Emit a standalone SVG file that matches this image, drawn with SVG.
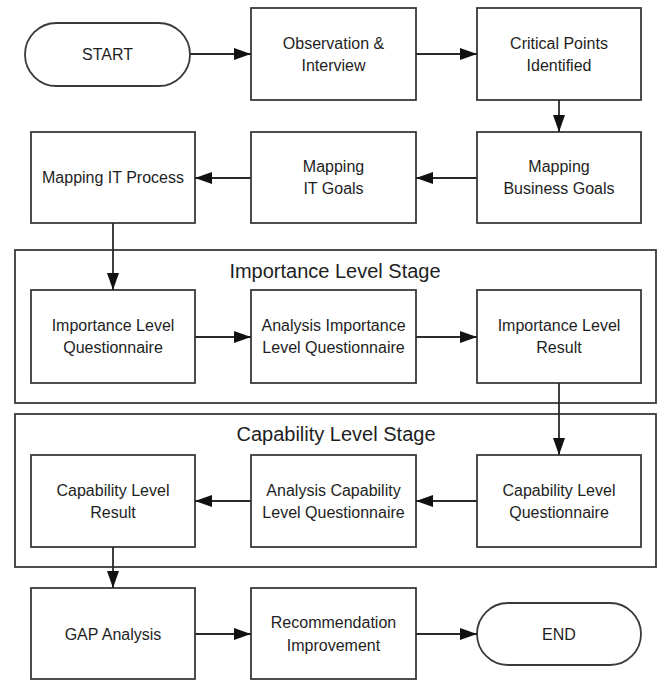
<svg xmlns="http://www.w3.org/2000/svg" width="659" height="681" viewBox="0 0 659 681">
<style>
.box{fill:#fff;stroke:#3a3a3a;stroke-width:1.8}
.frame{fill:none;stroke:#3a3a3a;stroke-width:1.8}
.t{font-family:"Liberation Sans",Arial,sans-serif;font-size:16px;fill:#1e1e1e;text-anchor:middle}
.title{font-family:"Liberation Sans",Arial,sans-serif;font-size:20px;fill:#1e1e1e;text-anchor:middle}
.c{fill:none;stroke:#2a2a2a;stroke-width:1.8;marker-end:url(#ah)}
</style>
<defs>
<marker id="ah" markerUnits="userSpaceOnUse" markerWidth="17" markerHeight="12" refX="17" refY="6" orient="auto">
<path d="M0,0 L17,6 L0,12 z" fill="#111"/>
</marker>
</defs>
<rect width="659" height="681" fill="#fff"/>
<g id="stage-importance">
<rect class="frame" x="15" y="250" width="641" height="153"/>
<text class="title" x="335" y="278">Importance Level Stage</text>
</g>
<g id="stage-capability">
<rect class="frame" x="15" y="414" width="641" height="153"/>
<text class="title" x="336" y="441">Capability Level Stage</text>
</g>
<g id="start">
<rect class="box" x="25" y="23" width="165" height="63" rx="31.5" ry="31.5"/>
<text class="t" x="107.5" y="60">START</text>
</g>
<g id="observation">
<rect class="box" x="251" y="8" width="165" height="92"/>
<text class="t" x="333.5" y="48.5">Observation &amp;</text>
<text class="t" x="333.5" y="70.5">Interview</text>
</g>
<g id="critical">
<rect class="box" x="477" y="8" width="164" height="92"/>
<text class="t" x="559" y="48.5">Critical Points</text>
<text class="t" x="559" y="70.5">Identified</text>
</g>
<g id="business-goals">
<rect class="box" x="477" y="132" width="164" height="91"/>
<text class="t" x="559" y="172">Mapping</text>
<text class="t" x="559" y="194">Business Goals</text>
</g>
<g id="it-goals">
<rect class="box" x="251" y="132" width="165" height="91"/>
<text class="t" x="333.5" y="172">Mapping</text>
<text class="t" x="333.5" y="194">IT Goals</text>
</g>
<g id="it-process">
<rect class="box" x="31" y="132" width="164" height="91"/>
<text class="t" x="113" y="183">Mapping IT Process</text>
</g>
<g id="ilq">
<rect class="box" x="31" y="290" width="164" height="93"/>
<text class="t" x="113" y="331">Importance Level</text>
<text class="t" x="113" y="353">Questionnaire</text>
</g>
<g id="ailq">
<rect class="box" x="251" y="290" width="165" height="93"/>
<text class="t" x="333.5" y="331">Analysis Importance</text>
<text class="t" x="333.5" y="353">Level Questionnaire</text>
</g>
<g id="ilr">
<rect class="box" x="477" y="290" width="164" height="93"/>
<text class="t" x="559" y="331">Importance Level</text>
<text class="t" x="559" y="353">Result</text>
</g>
<g id="clq">
<rect class="box" x="477" y="455" width="164" height="92"/>
<text class="t" x="559" y="496">Capability Level</text>
<text class="t" x="559" y="518">Questionnaire</text>
</g>
<g id="aclq">
<rect class="box" x="251" y="455" width="165" height="92"/>
<text class="t" x="333.5" y="496">Analysis Capability</text>
<text class="t" x="333.5" y="518">Level Questionnaire</text>
</g>
<g id="clr">
<rect class="box" x="31" y="455" width="164" height="92"/>
<text class="t" x="113" y="496">Capability Level</text>
<text class="t" x="113" y="518">Result</text>
</g>
<g id="gap">
<rect class="box" x="31" y="588" width="164" height="91"/>
<text class="t" x="113" y="639.5">GAP Analysis</text>
</g>
<g id="recommendation">
<rect class="box" x="251" y="588" width="165" height="91"/>
<text class="t" x="333.5" y="628">Recommendation</text>
<text class="t" x="333.5" y="650.5">Improvement</text>
</g>
<g id="end">
<rect class="box" x="477" y="603" width="164" height="62" rx="31" ry="31"/>
<text class="t" x="559" y="639.5">END</text>
</g>
<g id="connectors">
<line class="c" x1="190" y1="54" x2="251" y2="54"/>
<line class="c" x1="416" y1="54" x2="477" y2="54"/>
<line class="c" x1="559" y1="100" x2="559" y2="132"/>
<line class="c" x1="477" y1="178" x2="416" y2="178"/>
<line class="c" x1="251" y1="178" x2="195" y2="178"/>
<line class="c" x1="113" y1="223" x2="113" y2="290"/>
<line class="c" x1="195" y1="337" x2="251" y2="337"/>
<line class="c" x1="416" y1="337" x2="477" y2="337"/>
<line class="c" x1="559" y1="383" x2="559" y2="455"/>
<line class="c" x1="477" y1="501" x2="416" y2="501"/>
<line class="c" x1="251" y1="501" x2="195" y2="501"/>
<line class="c" x1="113" y1="547" x2="113" y2="588"/>
<line class="c" x1="195" y1="634" x2="251" y2="634"/>
<line class="c" x1="416" y1="634" x2="477" y2="634"/>
</g>
</svg>
